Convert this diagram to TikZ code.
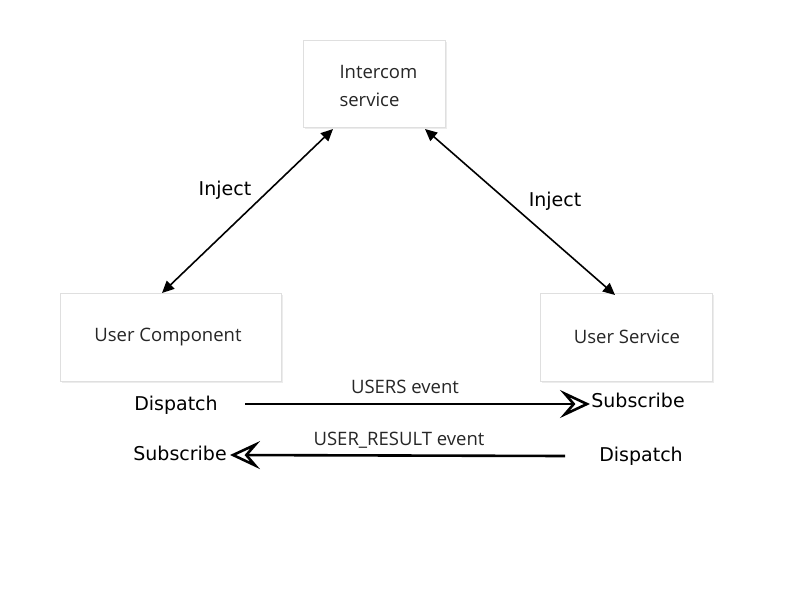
\documentclass[tikz,border=0pt]{standalone}
\usepackage{fontspec}
\setmainfont{Open Sans}
\newfontfamily\comicf{DejaVu Sans}
\usetikzlibrary{arrows.meta,shadows}
\begin{document}
\begin{tikzpicture}[x=1pt,y=-1pt,
  box/.style={draw=gray!25,fill=white,line width=0.8pt,
    drop shadow={opacity=0.15,shadow xshift=1.5pt,shadow yshift=-1.5pt},
    minimum width=#1},
  boxtext/.style={font=\fontsize{18.5}{28}\selectfont,text=black!85},
  comic/.style={font=\comicf\fontsize{19}{20}\selectfont},
  evlabel/.style={font=\fontsize{18.5}{20}\selectfont,text=black!85},
  inj/.style={line width=1.6pt,{Triangle[length=12pt,width=11pt]}-{Triangle[length=12pt,width=11pt]}},
  ev/.style={line width=2.6pt,-{Stealth[open,length=30pt,width=28pt,inset=12pt,line width=2.6pt]}}
]
\useasboundingbox (0,0) rectangle (800,600);
\fill[white] (0,0) rectangle (800,600);

% boxes
\draw[box=0pt] (303,40) rectangle (445,127);
\node[boxtext,align=left,anchor=west] (ic) at (336,86) {Intercom\\service};
\draw[box=0pt] (60,293) rectangle (281,381);
\node[boxtext] (uc) at (168,337) {User Component};
\draw[box=0pt] (540,293) rectangle (712,381);
\node[boxtext] (us) at (627,337) {User Service};

% inject connectors
\coordinate (icL) at (333,129);
\coordinate (ucT) at (162,293);
\coordinate (icR) at (425,129);
\coordinate (usT) at (615,295);
\draw[inj] (icL) -- (ucT);
\draw[inj] (icR) -- (usT);
\node[comic] (inj1) at (225,190) {Inject};
\node[comic] (inj2) at (555,201) {Inject};

% events
\node[comic] (disp1) at (176,405) {Dispatch};
\node[comic] (sub1) at (638,400) {Subscribe};
\node[comic] (sub2) at (180,453) {Subscribe};
\node[comic] (disp2) at (641,456) {Dispatch};
\coordinate (a1s) at (245,404);
\coordinate (a1e) at (590,404);
\coordinate (a2s) at (565,456);
\coordinate (a2e) at (230,455);
\draw[ev] (a1s) -- (a1e);
\draw[ev] (a2s) -- (a2e);
\node[evlabel] (l1) at (405,387) {USERS event};
\node[evlabel] (l2) at (399,440) {USER\_RESULT event};
\end{tikzpicture}
\end{document}
